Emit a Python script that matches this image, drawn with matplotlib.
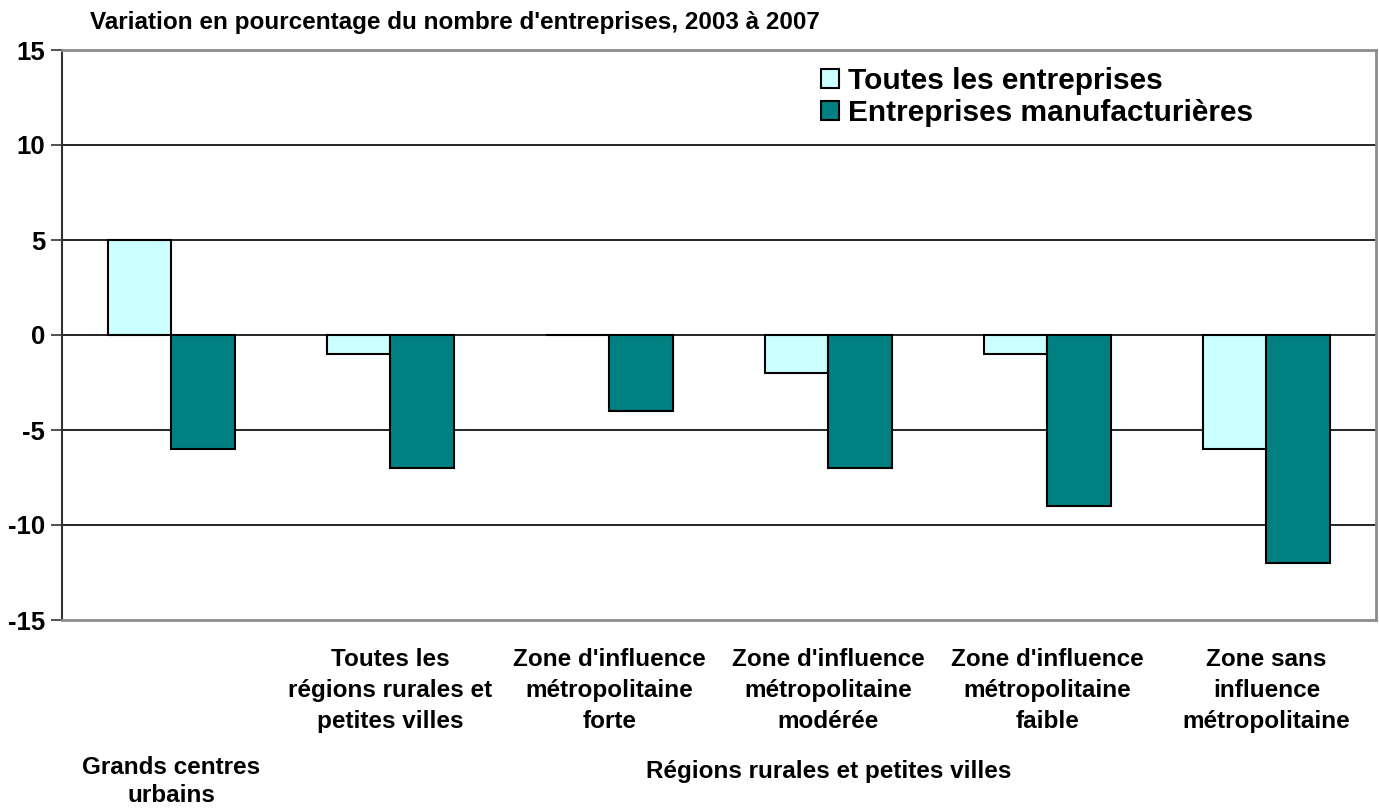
import matplotlib.pyplot as plt
import numpy as np

plt.rcParams['font.family'] = ['Liberation Sans', 'DejaVu Sans']
plt.rcParams['font.weight'] = 'bold'

""" Data """

categories = ["Toutes les\nrégions rurales et\npetites villes",
              "Zone d'influence\nmétropolitaine\nforte",
              "Zone d'influence\nmétropolitaine\nmodérée",
              "Zone d'influence\nmétropolitaine\nfaible",
              "Zone sans\ninfluence\nmétropolitaine"]
toutes = [5, -1, 0, -2, -1, -6]
manuf = [-6, -7, -4, -7, -9, -12]
names = ['Toutes les entreprises', 'Entreprises manufacturières']
yticks = [-15, -10, -5, 0, 5, 10, 15]

""" Plot """

fig = plt.figure(figsize=(13.79, 8.08), dpi=100)
ax = fig.add_axes([62/1379, 1 - 620/808, (1376-62)/1379, 570/808])

x = np.arange(len(toutes))
w = 0.29
ax.bar(x - w/2, toutes, w, color='#CCFFFF', edgecolor='black', linewidth=1.5,
       label=names[0], zorder=3)
ax.bar(x + w/2, manuf, w, color='#008080', edgecolor='black', linewidth=1.5,
       label=names[1], zorder=3)

ax.set_xlim(-0.5, len(toutes) - 0.5)
ax.set_ylim(-15, 15)
ax.set_yticks(yticks)
ax.set_yticklabels([str(t) for t in yticks], fontsize=18.5, fontweight='bold')
ax.set_xticks([])
for t in yticks[1:-1]:
    ax.axhline(t, color='black', linewidth=1.2, zorder=1)

# frame
for s in ('top', 'right', 'bottom'):
    ax.spines[s].set_color('#8c8c8c')
    ax.spines[s].set_linewidth(2)
ax.spines['left'].set_color('#333333')
ax.spines['left'].set_linewidth(1.5)
ax.tick_params(axis='y', length=8, width=1.2, color='#333333', pad=4)

# category labels
for i, lab in enumerate(categories):
    ax.text(i + 1, -16.45, lab, ha='center', va='top', fontsize=17.5,
            fontweight='bold', linespacing=1.45)
ax.text(0, -22.15, 'Grands centres\nurbains', ha='center', va='top',
        fontsize=17.5, fontweight='bold', linespacing=1.3)
ax.text(3, -22.35, 'Régions rurales et petites villes', ha='center', va='top',
        fontsize=17.5, fontweight='bold')

fig.text(90/1379, 1 - 23/808, "Variation en pourcentage du nombre d'entreprises, 2003 à 2007",
         ha='left', va='center', fontsize=17.5, fontweight='bold')

leg = ax.legend(loc='upper left', bbox_to_anchor=(821/1379, 1 - 67/808),
                bbox_transform=fig.transFigure, frameon=False,
                prop={'size': 21.5, 'weight': 'bold'}, handlelength=0.6,
                handleheight=0.6, handletextpad=0.3, labelspacing=0.15,
                borderpad=0, borderaxespad=0)

fig.savefig('out.png', dpi=100)
